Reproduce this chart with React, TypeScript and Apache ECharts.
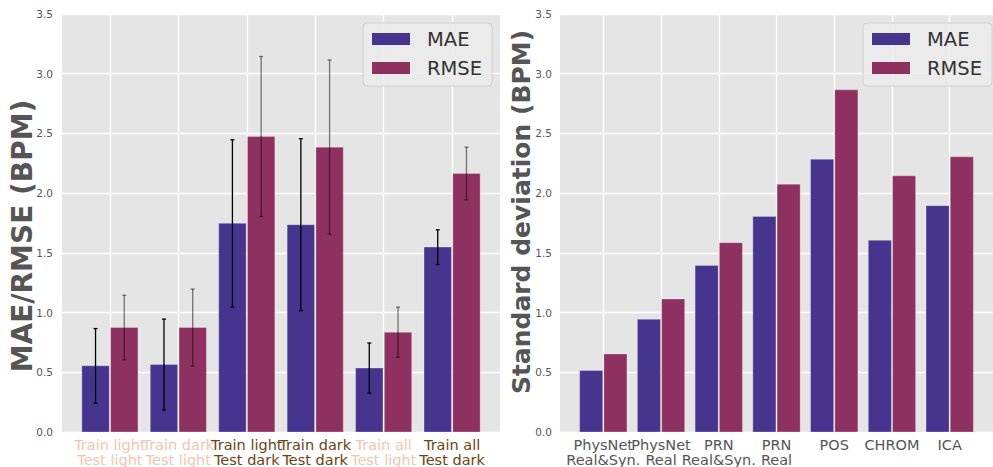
import React, { useEffect, useRef } from "react";
import * as echarts from "echarts";

// ---- data ----
const leftCategories = [
  "Train light\nTest light",
  "Train dark\nTest light",
  "Train light\nTest dark",
  "Train dark\nTest dark",
  "Train all\nTest light",
  "Train all\nTest dark",
];
const leftMAE = [0.554, 0.565, 1.747, 1.736, 0.535, 1.548];
const leftMAEErr = [0.312, 0.38, 0.7, 0.72, 0.21, 0.145];
const leftRMSE = [0.875, 0.875, 2.474, 2.385, 0.835, 2.165];
const leftRMSEErr = [0.27, 0.322, 0.67, 0.73, 0.21, 0.22];

const rightCategories = [
  "PhysNet\nReal&Syn.",
  "PhysNet\nReal",
  "PRN\nReal&Syn.",
  "PRN\nReal",
  "POS",
  "CHROM",
  "ICA",
];
const rightMAE = [0.515, 0.944, 1.395, 1.805, 2.284, 1.605, 1.895];
const rightRMSE = [0.654, 1.114, 1.585, 2.075, 2.865, 2.145, 2.304];

const yTicks = [0, 0.5, 1, 1.5, 2, 2.5, 3, 3.5];

// ---- styles ----
const FONT = "DejaVu Sans";
const MAE_COLOR = "#46348e";
const RMSE_COLOR = "#8e3160";
const LIGHT_LABEL = "#f4c6ad";
const DARK_LABEL = "#6e4312";
const leftLabelColors = [LIGHT_LABEL, LIGHT_LABEL, DARK_LABEL, DARK_LABEL, LIGHT_LABEL, DARK_LABEL];

const BAR_W = 0.4;
const OFF = 0.21;

function barRender(offset: number, color: string) {
  return (params: any, api: any) => {
    const x = api.value(0);
    const y = api.value(1);
    const p0 = api.coord([x + offset - BAR_W / 2, y]);
    const p1 = api.coord([x + offset + BAR_W / 2, 0]);
    return {
      type: "rect",
      shape: { x: p0[0], y: p0[1], width: p1[0] - p0[0], height: p1[1] - p0[1] },
      style: { fill: color, stroke: "rgba(255,255,255,0.28)", lineWidth: 1 },
    };
  };
}

function errRender(offset: number, color: string) {
  return (params: any, api: any) => {
    const x = api.value(0) + offset;
    const y = api.value(1);
    const e = api.value(2);
    const top = api.coord([x, y + e]);
    const bot = api.coord([x, y - e]);
    const cap = 2;
    const ls = { stroke: color, lineWidth: 1.3 };
    return {
      type: "group",
      children: [
        { type: "line", shape: { x1: top[0], y1: top[1], x2: bot[0], y2: bot[1] }, style: ls },
        { type: "line", shape: { x1: top[0] - cap, y1: top[1], x2: top[0] + cap, y2: top[1] }, style: ls },
        { type: "line", shape: { x1: bot[0] - cap, y1: bot[1], x2: bot[0] + cap, y2: bot[1] }, style: ls },
      ],
    };
  };
}

// parity: 0 -> even-index labels (also draws grid lines), 1 -> odd-index labels
function makeXAxis(gridIndex: number, cats: string[], min: number, max: number, colors: string[] | null, parity: number) {
  const all = cats.map((_, i) => i);
  const vals = all.filter((i) => i % 2 === parity);
  return {
    type: "value",
    gridIndex,
    min,
    max,
    position: "bottom",
    axisLine: { show: false },
    axisTick: { show: false, customValues: parity === 0 ? all : vals },
    splitLine: { show: parity === 0, lineStyle: { color: "#ffffff", width: 1.3 } },
    axisLabel: {
      customValues: vals,
      margin: 5,
      showMinLabel: true,
      showMaxLabel: true,
      hideOverlap: false,
      fontFamily: FONT,
      fontSize: 14.5,
      lineHeight: 15,
      color: (v: any) => {
        const i = Math.round(Number(v));
        return colors ? colors[i] : "#555555";
      },
      formatter: (v: number) => cats[Math.round(v)] ?? "",
    },
  };
}

function makeYAxis(gridIndex: number, margin: number) {
  return {
    type: "value",
    gridIndex,
    min: yTicks[0],
    max: yTicks[yTicks.length - 1],
    interval: 0.5,
    axisLine: { show: false },
    axisTick: { show: false },
    splitLine: { show: true, lineStyle: { color: "#ffffff", width: 1.3 } },
    axisLabel: {
      margin,
      fontFamily: FONT,
      fontSize: 10.5,
      color: "#555555",
      formatter: (v: number) => v.toFixed(1),
    },
  };
}

function makeLegend(left: number) {
  return {
    left,
    top: 23,
    orient: "vertical",
    data: [
      { name: "MAE", icon: "rect" },
      { name: "RMSE", icon: "rect" },
    ],
    itemWidth: 38,
    itemHeight: 12,
    itemGap: 9,
    padding: [6, 10, 8, 9],
    backgroundColor: "rgba(236,236,236,0.85)",
    borderColor: "#cfcfcf",
    borderWidth: 1,
    borderRadius: 4,
    selectedMode: false,
    textStyle: {
      fontFamily: FONT,
      fontSize: 19.5,
      lineHeight: 20,
      color: "#333333",
      padding: [0, 0, 0, 12],
    },
  };
}

export default function App() {
  const ref = useRef<HTMLDivElement>(null);
  useEffect(() => {
    if (!ref.current) return;
    const chart = echarts.init(ref.current, null, { renderer: "svg" });
    const lMAE = leftMAE.map((v, i) => [i, v, leftMAEErr[i]]);
    const lRMSE = leftRMSE.map((v, i) => [i, v, leftRMSEErr[i]]);
    const rMAE = rightMAE.map((v, i) => [i, v]);
    const rRMSE = rightRMSE.map((v, i) => [i, v]);
    const option: any = {
      animation: false,
      backgroundColor: "#ffffff",
      grid: [
        { left: 62, top: 14, width: 438, height: 418, show: true, backgroundColor: "#e5e5e5", borderWidth: 0 },
        { left: 560, top: 14, width: 437, height: 418, show: true, backgroundColor: "#e5e5e5", borderWidth: 0 },
      ],
      xAxis: [
        makeXAxis(0, leftCategories, -0.7, 5.7, leftLabelColors, 0),
        makeXAxis(0, leftCategories, -0.7, 5.7, leftLabelColors, 1),
        makeXAxis(1, rightCategories, -0.75, 6.75, null, 0),
        makeXAxis(1, rightCategories, -0.75, 6.75, null, 1),
      ],
      yAxis: [makeYAxis(0, 9), makeYAxis(1, 8)],
      legend: [makeLegend(363), makeLegend(863)],
      series: [
        { name: "MAE", type: "custom", xAxisIndex: 0, yAxisIndex: 0, data: lMAE, renderItem: barRender(-OFF, MAE_COLOR), itemStyle: { color: MAE_COLOR }, encode: { x: 0, y: 1 } },
        { name: "RMSE", type: "custom", xAxisIndex: 0, yAxisIndex: 0, data: lRMSE, renderItem: barRender(OFF, RMSE_COLOR), itemStyle: { color: RMSE_COLOR }, encode: { x: 0, y: 1 } },
        { name: "MAE err", type: "custom", xAxisIndex: 0, yAxisIndex: 0, data: lMAE, renderItem: errRender(-OFF, "#000000"), encode: { x: 0, y: 1 }, z: 3 },
        { name: "RMSE err", type: "custom", xAxisIndex: 0, yAxisIndex: 0, data: lRMSE, renderItem: errRender(OFF, "rgba(0,0,0,0.5)"), encode: { x: 0, y: 1 }, z: 3 },
        { name: "MAE", type: "custom", xAxisIndex: 2, yAxisIndex: 1, data: rMAE, renderItem: barRender(-OFF, MAE_COLOR), itemStyle: { color: MAE_COLOR }, encode: { x: 0, y: 1 } },
        { name: "RMSE", type: "custom", xAxisIndex: 2, yAxisIndex: 1, data: rRMSE, renderItem: barRender(OFF, RMSE_COLOR), itemStyle: { color: RMSE_COLOR }, encode: { x: 0, y: 1 } },
      ],
      graphic: [
        {
          type: "text",
          x: 22.5,
          y: 236,
          rotation: Math.PI / 2,
          style: {
            text: "MAE/RMSE (BPM)",
            fontFamily: FONT,
            fontWeight: "bold",
            fontSize: 28,
            fill: "#555555",
            align: "center",
            verticalAlign: "middle",
          },
        },
        {
          type: "text",
          x: 521,
          y: 212,
          rotation: Math.PI / 2,
          style: {
            text: "Standard deviation (BPM)",
            fontFamily: FONT,
            fontWeight: "bold",
            fontSize: 25,
            fill: "#555555",
            align: "center",
            verticalAlign: "middle",
          },
        },
      ],
    };
    chart.setOption(option);
    return () => chart.dispose();
  }, []);
  return (
    <div
      ref={ref}
      style={{ position: "fixed", left: 0, top: 0, width: 993, height: 467, background: "#ffffff" }}
    />
  );
}
